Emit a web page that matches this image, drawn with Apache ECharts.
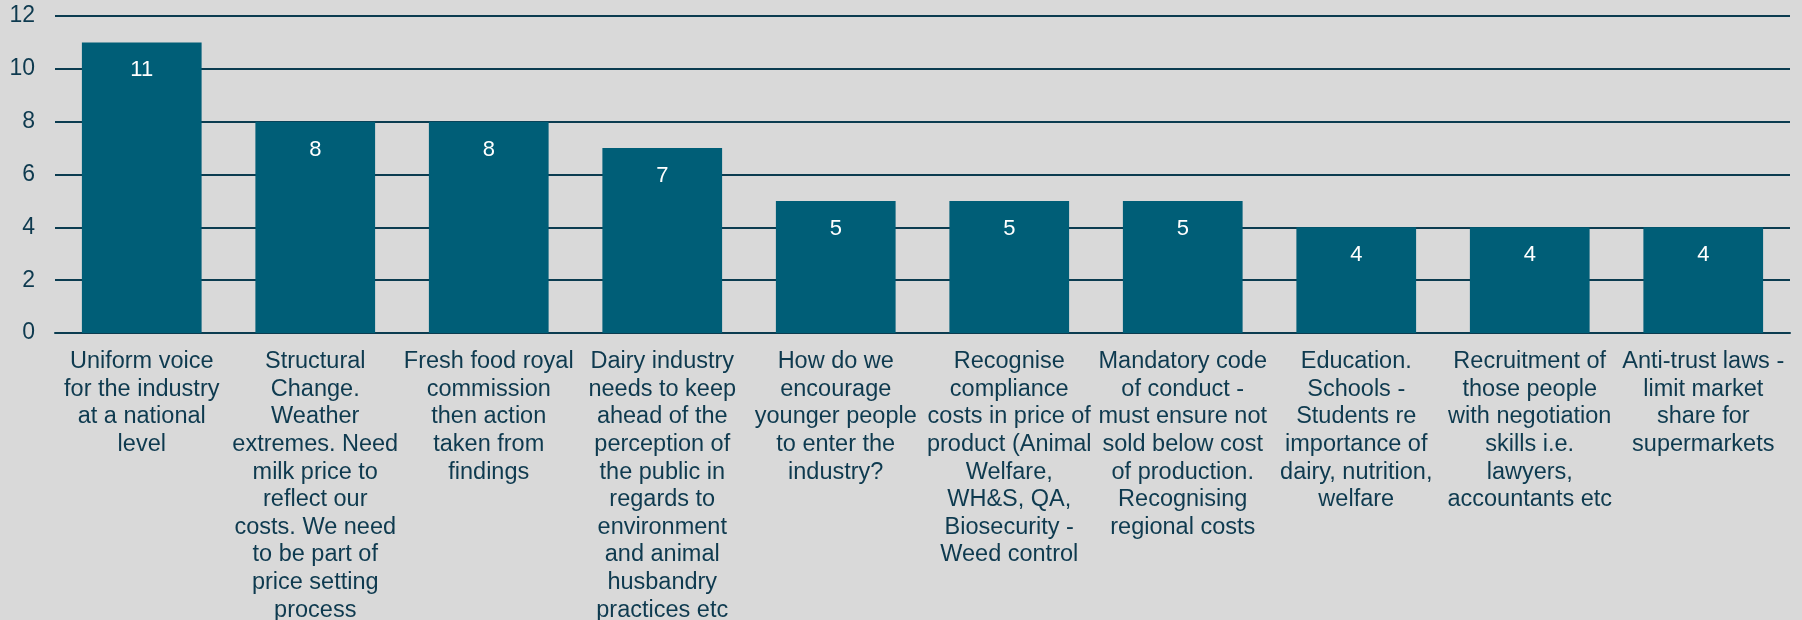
<!DOCTYPE html>
<html>
<head>
<meta charset="utf-8">
<script src="https://cdn.jsdelivr.net/npm/echarts@6/dist/echarts.min.js"></script>
<style>
  html, body { margin: 0; padding: 0; background: #D9D9D9; }
  #chart { width: 1802px; height: 620px; }
</style>
</head>
<body>
<div id="chart"></div>
<script>
// categories, wrapped as in the original
var categories = [
    'Uniform voice\nfor the industry\nat a national\nlevel',
    'Structural\nChange.\nWeather\nextremes. Need\nmilk price to\nreflect our\ncosts. We need\nto be part of\nprice setting\nprocess',
    'Fresh food royal\ncommission\nthen action\ntaken from\nfindings',
    'Dairy industry\nneeds to keep\nahead of the\nperception of\nthe public in\nregards to\nenvironment\nand animal\nhusbandry\npractices etc',
    'How do we\nencourage\nyounger people\nto enter the\nindustry?',
    'Recognise\ncompliance\ncosts in price of\nproduct (Animal\nWelfare,\nWH&S, QA,\nBiosecurity -\nWeed control',
    'Mandatory code\nof conduct -\nmust ensure not\nsold below cost\nof production.\nRecognising\nregional costs',
    'Education.\nSchools -\nStudents re\nimportance of\ndairy, nutrition,\nwelfare',
    'Recruitment of\nthose people\nwith negotiation\nskills i.e.\nlawyers,\naccountants etc',
    'Anti-trust laws -\nlimit market\nshare for\nsupermarkets'
];
var counts = [11, 8, 8, 7, 5, 5, 5, 4, 4, 4];
var yTicks = { min: 0, max: 12, interval: 2 };

var chart = echarts.init(document.getElementById('chart'));
var option = {
    backgroundColor: '#D9D9D9',
    animation: false,
    grid: {
        left: 55,
        right: 12,
        top: 16,
        bottom: 287,
        outerBoundsMode: 'none'
    },
    xAxis: {
        type: 'category',
        data: categories,
        axisTick: { show: false },
        axisLine: {
            show: true,
            lineStyle: { color: '#0B3C50', width: 2 }
        },
        axisLabel: {
            interval: 0,
            margin: 15,
            color: '#0E3A4F',
            fontFamily: '"Liberation Sans", Arial, sans-serif',
            fontSize: 23.5,
            lineHeight: 27.6,
            align: 'center'
        }
    },
    yAxis: {
        type: 'value',
        min: yTicks.min,
        max: yTicks.max,
        interval: yTicks.interval,
        axisTick: { show: false },
        axisLine: { show: false },
        axisLabel: {
            color: '#0E3A4F',
            fontFamily: '"Liberation Sans", Arial, sans-serif',
            fontSize: 23,
            margin: 20
        },
        splitLine: {
            show: true,
            lineStyle: { color: '#0B3C50', width: 2 }
        }
    },
    series: [
        {
            type: 'bar',
            data: counts,
            barWidth: '69%',
            itemStyle: { color: '#005E77' },
            z: 3,
            label: {
                show: true,
                position: 'insideTop',
                distance: 17,
                color: '#FFFFFF',
                fontFamily: '"Liberation Sans", Arial, sans-serif',
                fontSize: 22
            }
        }
    ]
};
chart.setOption(option);
</script>
</body>
</html>
